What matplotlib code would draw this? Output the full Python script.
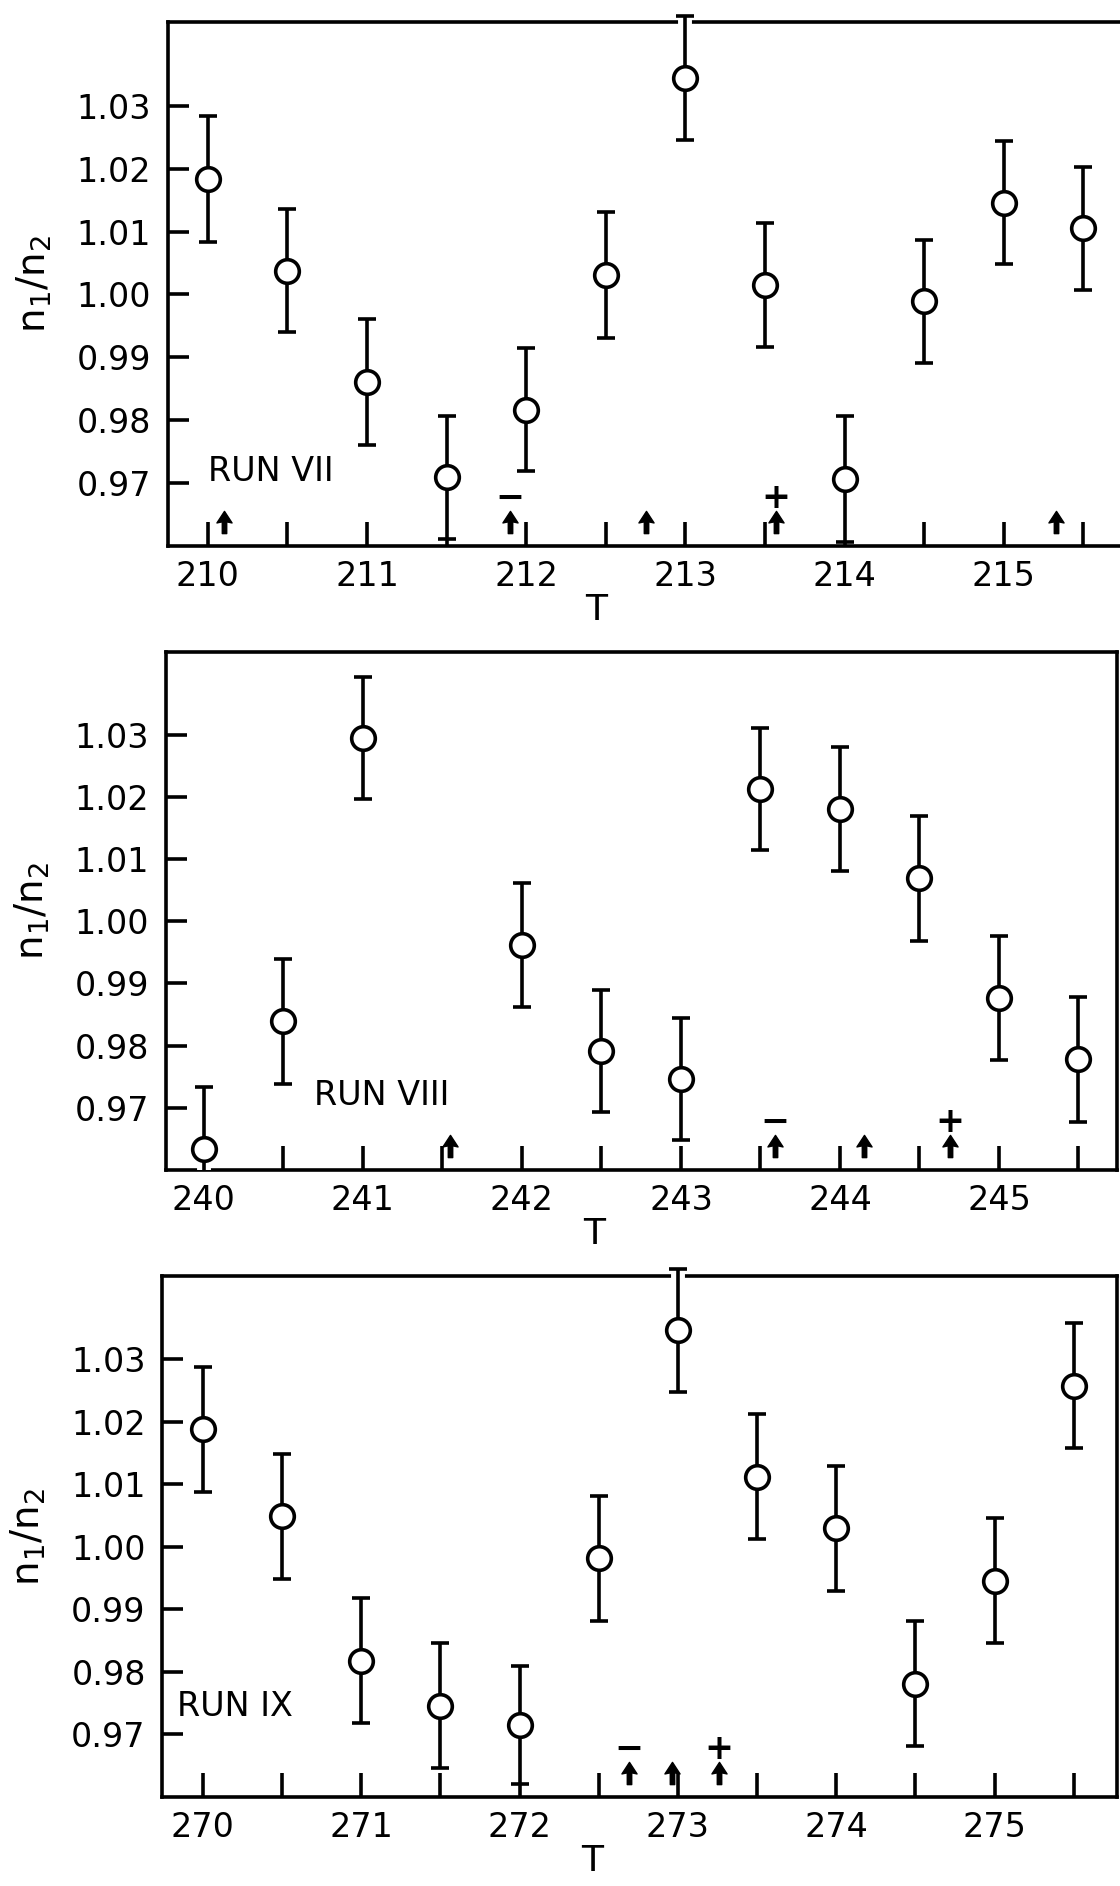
import matplotlib.pyplot as plt
import matplotlib.patheffects as pe
from matplotlib.path import Path
from matplotlib.ticker import MultipleLocator, FuncFormatter
from matplotlib.transforms import Bbox, TransformedBbox

# Run VII
t_vii = [210.0, 210.5, 211.0, 211.5, 212.0, 212.5, 213.0, 213.5, 214.0, 214.5, 215.0, 215.5]
r_vii = [1.0183, 1.0038, 0.9861, 0.9709, 0.9817, 1.0031, 1.0344, 1.0015, 0.9707, 0.9989, 1.0146, 1.0105]
e_vii = [0.0100, 0.0098, 0.0100, 0.0098, 0.0098, 0.0100, 0.0098, 0.0098, 0.0100, 0.0098, 0.0098, 0.0098]
arrows_vii = [210.10, 211.90, 212.75, 213.57, 215.33]
signs_vii = ['', '\u2212', '', '+', '']

# Run VIII (no point at 241.5)
t_viii = [240.0, 240.5, 241.0, 242.0, 242.5, 243.0, 243.5, 244.0, 244.5, 245.0, 245.5]
r_viii = [0.9634, 0.9839, 1.0295, 0.9962, 0.9792, 0.9746, 1.0212, 1.0181, 1.0069, 0.9877, 0.9778]
e_viii = [0.0100, 0.0101, 0.0098, 0.0100, 0.0098, 0.0098, 0.0098, 0.0100, 0.0100, 0.0100, 0.0100]
arrows_viii = [241.55, 243.59, 244.15, 244.69]
signs_viii = ['', '\u2212', '', '+']

# Run IX
t_ix = [270.0, 270.5, 271.0, 271.5, 272.0, 272.5, 273.0, 273.5, 274.0, 274.5, 275.0, 275.5]
r_ix = [1.0188, 1.0049, 0.9818, 0.9746, 0.9715, 0.9982, 1.0346, 1.0112, 1.0030, 0.9781, 0.9946, 1.0258]
e_ix = [0.0100, 0.0100, 0.0100, 0.0100, 0.0095, 0.0100, 0.0098, 0.0100, 0.0100, 0.0100, 0.0100, 0.0100]
arrows_ix = [272.69, 272.96, 273.26]
signs_ix = ['\u2212', '', '+']

run_names = ['RUN VII', 'RUN VIII', 'RUN IX']
y_ticks = [0.97, 0.98, 0.99, 1.00, 1.01, 1.02, 1.03]

# layout of the three panels (figure fractions), axis limits, run label spots
positions = [[0.150, 0.7105, 0.850, 0.2778],
             [0.148, 0.3796, 0.849, 0.2747],
             [0.145, 0.0472, 0.852, 0.2762]]
xlims = [(209.75, 215.73), (239.76, 245.74), (269.745, 275.77)]
ylim = (0.9600, 1.0433)
name_pos = [(210.0, 0.9719), (240.69, 0.9720), (269.84, 0.9745)]
ARROW_Y = 0.9638
SIGN_Y = 0.9677

# small filled up-arrow used as a marker
arrow_marker = Path(
    [(0, 0.5), (0.34, -0.02), (0.1, 0.03), (0.1, -0.5), (-0.1, -0.5),
     (-0.1, 0.03), (-0.34, -0.02), (0, 0.5)],
    [Path.MOVETO] + [Path.LINETO] * 6 + [Path.CLOSEPOLY])

LW = 2.6

plt.rcParams['font.family'] = ['DejaVu Sans']
fig = plt.figure(figsize=(11.2, 18.86), dpi=100)

panels = [(t_vii, r_vii, e_vii, arrows_vii, signs_vii),
          (t_viii, r_viii, e_viii, arrows_viii, signs_viii),
          (t_ix, r_ix, e_ix, arrows_ix, signs_ix)]

for i, (t, r, e, arr, sg) in enumerate(panels):
    ax = fig.add_axes(positions[i])
    ax.set_xlim(*xlims[i])
    ax.set_ylim(*ylim)

    eb = ax.errorbar(t, r, yerr=e, fmt='o', ms=17, mfc='white', mec='black',
                     mew=LW, color='black', elinewidth=LW, capsize=6.5,
                     capthick=LW, zorder=3)
    # let the bars poke out of the top of the frame but not the bottom
    clip = TransformedBbox(Bbox([[0, 0], [1, 1.2]]), ax.transAxes)
    for art in [eb[0], *eb[1], *eb[2]]:
        art.set_clip_box(clip)
    for col in eb[2]:
        col.set_path_effects([pe.withStroke(linewidth=10, foreground='white')])

    ax.plot(arr, [ARROW_Y] * len(arr), ls='none', marker=arrow_marker,
            ms=16, color='black', zorder=4)
    for x, s in zip(arr, sg):
        if s:
            ax.text(x, SIGN_Y, s, fontsize=25, fontweight='bold',
                    ha='center', va='center')

    ax.text(name_pos[i][0], name_pos[i][1], run_names[i], fontsize=24,
            ha='left', va='center')

    ax.xaxis.set_major_locator(MultipleLocator(0.5))
    ax.xaxis.set_major_formatter(FuncFormatter(
        lambda v, p: f'{v:.0f}' if abs(v - round(v)) < 1e-6 else ''))
    ax.set_yticks(y_ticks)
    ax.set_yticklabels([f'{v:.2f}' for v in y_ticks])

    ax.tick_params(axis='x', direction='in', length=17, width=LW,
                   labelsize=24, pad=10, top=False)
    ax.tick_params(axis='y', direction='in', length=15, width=LW,
                   labelsize=24, pad=12, right=False)

    for side in ['left', 'bottom', 'top', 'right']:
        ax.spines[side].set_linewidth(LW)
    if i == 0:
        ax.spines['right'].set_visible(False)

    ax.set_xlabel('T', fontsize=26)
    ax.xaxis.set_label_coords(0.45, -0.09)
    ax.set_ylabel(r'$\mathregular{n_1/n_2}$', fontsize=28)
    ax.yaxis.set_label_coords(-0.12, 0.5)

plt.savefig('out.png', dpi=100)
